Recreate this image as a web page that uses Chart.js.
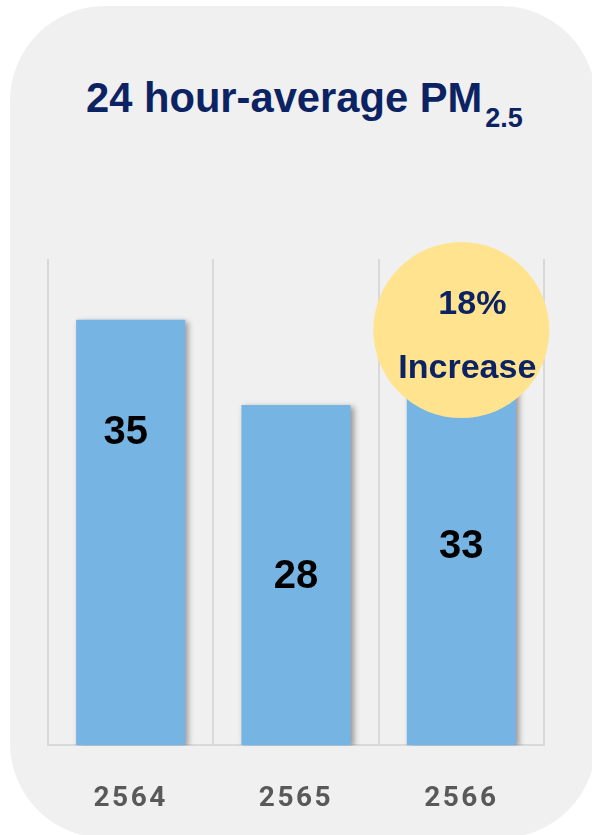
<!DOCTYPE html>
<html>
<head>
<meta charset="utf-8">
<script src="https://cdn.jsdelivr.net/npm/chart.js"></script>
<style>
  body { margin: 0; background: #ffffff; width: 592px; height: 835px; overflow: hidden; position: relative; }
  #card { position: absolute; left: 10px; top: 6px; width: 586px; height: 832px; background: #f0f0f0; border-radius: 95px; }
  #title { position: absolute; left: 86px; top: 77px; margin: 0; font: bold 41.7px "Liberation Sans", Arial, sans-serif; line-height: 41px; color: #0c2363; white-space: nowrap; }
  #title span { font-size: 27px; vertical-align: -15px; margin-left: 3px; }
  #wrap { position: absolute; left: 0; top: 0; width: 592px; height: 835px; }
</style>
</head>
<body>
<div id="card"></div>
<h1 id="title">24 hour-average PM<span>2.5</span></h1>
<div id="wrap"><canvas id="chart"></canvas></div>
<script>
  // data
  const years = ["2564", "2565", "2566"];
  const pm25 = [35, 28, 33];
  const yMax = 40;
  const changeLines = ["18%", "Increase"];

  const NAVY = "#0c2363";

  // ===== soft shadow under bars, value labels and the "increase" badge =====
  const barExtras = {
    id: "barExtras",
    beforeDraw(chart) {
      chart.ctx.letterSpacing = "2.5px";
    },
    beforeDatasetsDraw(chart) {
      const ctx = chart.ctx;
      ctx.letterSpacing = "0px";
      ctx.save();
      ctx.shadowColor = "rgba(0,0,0,0.38)";
      ctx.shadowBlur = 6;
      ctx.shadowOffsetX = 3;
      ctx.shadowOffsetY = 2;
    },
    afterDatasetsDraw(chart) {
      const ctx = chart.ctx;
      ctx.restore();
      const bars = chart.getDatasetMeta(0).data;

      // value labels
      ctx.save();
      ctx.fillStyle = "#000000";
      ctx.font = 'bold 40px "Liberation Sans", Arial, sans-serif';
      ctx.textAlign = "center";
      ctx.textBaseline = "middle";
      bars.forEach((bar, i) => {
        // first label sits high in its bar, the others are centred
        if (i === 0) {
          ctx.fillText(String(pm25[i]), bar.x - 5, bar.y + 113);
        } else {
          ctx.fillText(String(pm25[i]), bar.x, (bar.y + bar.base) / 2 + 2);
        }
      });

      // badge over the last bar
      const last = bars[bars.length - 1];
      const cx = last.x;
      const cy = last.y - 14;
      ctx.beginPath();
      ctx.arc(cx, cy, 88, 0, Math.PI * 2);
      ctx.fillStyle = "#ffe38f";
      ctx.fill();
      ctx.fillStyle = NAVY;
      ctx.font = 'bold 34px "Liberation Sans", Arial, sans-serif';
      ctx.fillText(changeLines[0], cx + 11, cy - 25);
      ctx.fillText(changeLines[1], cx + 6, cy + 39);
      ctx.restore();
    },
  };

  const ctx = document.getElementById("chart").getContext("2d");
  const pmChart = new Chart(ctx, {
    type: "bar",
    data: {
      labels: years,
      datasets: [
        {
          data: pm25,
          backgroundColor: "#76b5e3",
          borderWidth: 0,
          categoryPercentage: 1,
          barPercentage: 0.66,
        },
      ],
    },
    plugins: [barExtras],
    options: {
      responsive: true,
      maintainAspectRatio: false,
      animation: false,
      layout: {
        padding: { left: 48, right: 48, top: 259, bottom: -18 },
      },
      plugins: {
        legend: { display: false },
        title: { display: false },
        tooltip: { enabled: false },
      },
      scales: {
        x: {
          offset: true,
          grid: {
            display: true,
            offset: true,
            drawTicks: false,
            color: "#d9d9d9",
            lineWidth: 2,
          },
          border: { display: true, color: "#d9d9d9", width: 2 },
          ticks: {
            padding: 37,
            color: "#595959",
            font: { family: "Roboto", weight: "bold", size: 28 },
          },
        },
        y: {
          display: false,
          min: 0,
          max: yMax,
        },
      },
    },
  });
</script>
</body>
</html>
